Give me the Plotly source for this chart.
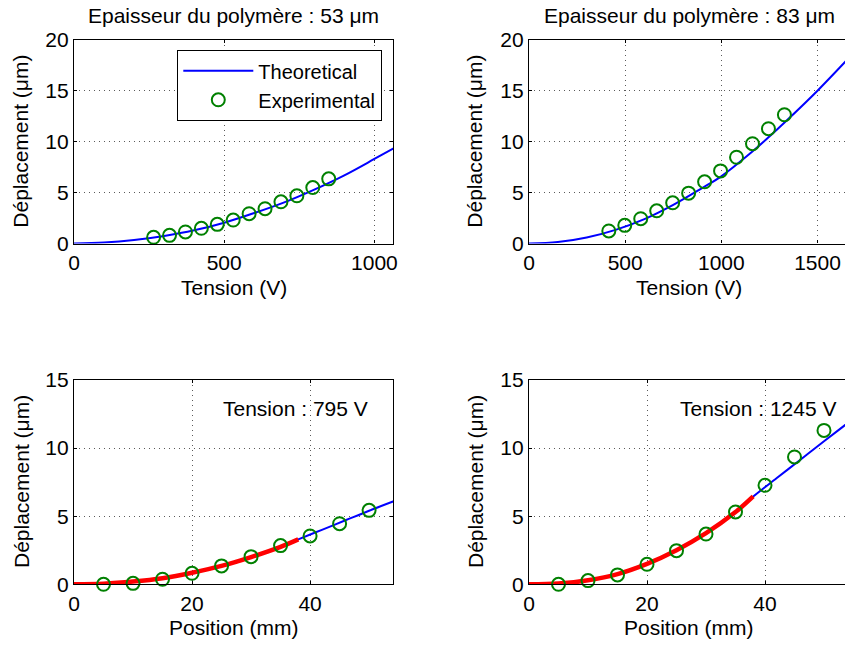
import plotly.graph_objects as go

# ---------------- data ----------------
# Top-left: polymer thickness 53 um
v53_exp = [265, 318, 371, 424, 477, 530, 583, 636, 689, 742, 795, 848]
d53_exp = [0.62, 0.81, 1.14, 1.5, 1.89, 2.31, 2.93, 3.42, 4.1, 4.69, 5.5, 6.35]
v53_th = [0, 100, 200, 300, 400, 500, 600, 700, 800, 900, 1000, 1070]
d53_th = [0, 0.1, 0.35, 0.75, 1.3, 2.05, 3.0, 4.05, 5.3, 6.7, 8.3, 9.45]

# Top-right: polymer thickness 83 um
v83_exp = [415, 498, 581, 664, 747, 830, 913, 996, 1079, 1162, 1245, 1328]
d83_exp = [1.24, 1.79, 2.44, 3.22, 4.0, 4.95, 6.06, 7.13, 8.47, 9.8, 11.27, 12.64]
v83_th = [0, 150, 300, 450, 600, 750, 900, 1000, 1160, 1250, 1330, 1500, 1650]
d83_th = [0, 0.15, 0.6, 1.35, 2.4, 3.8, 5.45, 6.6, 9.0, 10.5, 11.9, 15.0, 17.95]

# Bottom-left: tension 795 V
pos_exp = [5, 10, 15, 20, 25, 30, 35, 40, 45, 50]
d795_exp = [0.0, 0.07, 0.37, 0.81, 1.35, 2.03, 2.84, 3.55, 4.45, 5.43]
pos_red = [0, 5, 10, 15, 20, 25, 30, 35, 38]
d795_red = [0, 0.04, 0.2, 0.45, 0.85, 1.35, 2.0, 2.75, 3.3]
pos_blue = [0, 5, 10, 15, 20, 25, 30, 35, 38, 42, 46, 50, 54.5]
d795_blue = [0, 0.04, 0.2, 0.45, 0.85, 1.35, 2.0, 2.75, 3.3, 4.0, 4.7, 5.4, 6.15]

# Bottom-right: tension 1245 V
d1245_exp = [0.0, 0.27, 0.69, 1.47, 2.47, 3.69, 5.31, 7.27, 9.35, 11.3]
d1245_red = [0, 0.06, 0.3, 0.75, 1.5, 2.5, 3.75, 5.3, 6.45]
d1245_blue = [0, 0.06, 0.3, 0.75, 1.5, 2.5, 3.75, 5.3, 6.45, 7.8, 9.15, 10.5, 12.0]

titles = ["Epaisseur du polymère : 53 μm", "Epaisseur du polymère : 83 μm"]
notes = ["Tension : 795 V", "Tension : 1245 V"]
ylabel = "Déplacement (μm)"
xlabel_top = "Tension (V)"
xlabel_bot = "Position (mm)"

# ---------------- style ----------------
W, H = 845, 645
FONT = "Liberation Sans, Arial, Helvetica, sans-serif"
FS = 21
BLUE = "rgb(0,0,255)"
GREEN = "rgb(0,128,0)"
RED = "rgb(255,0,0)"

def px(x):
    return x / W

def py(y):
    return 1 - y / H

L_X = [px(74), px(393.3)]
R_X = [px(529), 1.0]
T_Y = [py(243.6), py(39.7)]
B_Y = [py(584.3), py(380)]

fig = go.Figure()

def add_curve(x, y, xa, ya, color, width, name=None, legend=False):
    fig.add_trace(go.Scatter(x=x, y=y, mode="lines", xaxis=xa, yaxis=ya,
                             line=dict(color=color, width=width, shape="spline"),
                             name=name, showlegend=legend))

def add_points(x, y, xa, ya, name=None, legend=False):
    fig.add_trace(go.Scatter(x=x, y=y, mode="markers", xaxis=xa, yaxis=ya,
                             marker=dict(symbol="circle-open", size=13,
                                         color=GREEN, line=dict(width=2, color=GREEN)),
                             cliponaxis=False, name=name, showlegend=legend))

add_curve(v53_th, d53_th, "x", "y", BLUE, 2, "Theoretical", True)
add_points(v53_exp, d53_exp, "x", "y", "Experimental", True)

add_curve(v83_th, d83_th, "x2", "y2", BLUE, 2)
add_points(v83_exp, d83_exp, "x2", "y2")

add_curve(pos_blue, d795_blue, "x3", "y3", BLUE, 2)
add_curve(pos_red, d795_red, "x3", "y3", RED, 4.5)
add_points(pos_exp, d795_exp, "x3", "y3")

add_curve(pos_blue, d1245_blue, "x4", "y4", BLUE, 2)
add_curve(pos_red, d1245_red, "x4", "y4", RED, 4.5)
add_points(pos_exp, d1245_exp, "x4", "y4")

def axis(domain, rng, dtick, anchor, mirror):
    return dict(domain=domain, range=rng, dtick=dtick, tick0=0, anchor=anchor,
                automargin=False,
                showline=True, linecolor="black", linewidth=1.3, mirror=mirror,
                ticks="inside", ticklen=3, tickcolor="black", tickwidth=1,
                showgrid=True, gridcolor="rgb(90,90,90)", gridwidth=1,
                griddash="1px,4px", zeroline=False,
                tickfont=dict(family=FONT, size=FS, color="black"))

fig.update_layout(
    template="none",
    xaxis=axis(L_X, [0, 1063], 500, "y", "allticks"),
    yaxis=axis(T_Y, [0, 20], 5, "x", "allticks"),
    xaxis2=axis(R_X, [0, 1643], 500, "y2", "allticks"),
    yaxis2=axis(T_Y, [0, 20], 5, "x2", False),
    xaxis3=axis(L_X, [0, 54.1], 20, "y3", "allticks"),
    yaxis3=axis(B_Y, [0, 15], 5, "x3", "allticks"),
    xaxis4=axis(R_X, [0, 53.56], 20, "y4", "allticks"),
    yaxis4=axis(B_Y, [0, 15], 5, "x4", False),
)

ann = []
def text(s, x, y, xanchor="center", angle=0):
    ann.append(dict(text=s, x=px(x), y=py(y), xref="paper", yref="paper",
                    xanchor=xanchor, yanchor="middle", showarrow=False,
                    textangle=angle, font=dict(family=FONT, size=FS, color="black")))

text(titles[0], 233.7, 15)
text(titles[1], 689, 15)
text(xlabel_top, 233.7, 287)
text(xlabel_top, 689, 287)
text(xlabel_bot, 233.7, 627)
text(xlabel_bot, 689, 627)
for yc in (141.7, 482):
    text(ylabel, 21, yc, angle=-90)
    text(ylabel, 475, yc, angle=-90)
text(notes[0], 370, 409, xanchor="right")
text(notes[1], 838, 409, xanchor="right")

fig.update_layout(
    width=W, height=H, margin=dict(l=0, r=0, t=0, b=0, autoexpand=False),
    paper_bgcolor="white", plot_bgcolor="white",
    font=dict(family=FONT, size=FS, color="black"),
    annotations=ann,
    legend=dict(x=px(382), y=py(50), xanchor="right", yanchor="top",
                xref="paper", yref="paper",
                bgcolor="white", bordercolor="black", borderwidth=1.3,
                font=dict(family=FONT, size=20, color="black"),
                itemwidth=70, tracegroupgap=0),
)

fig.write_html(
    "out.html",
    config={"displayModeBar": False},
    post_script="document.body.style.margin='0';document.body.style.overflow='hidden';",
)
